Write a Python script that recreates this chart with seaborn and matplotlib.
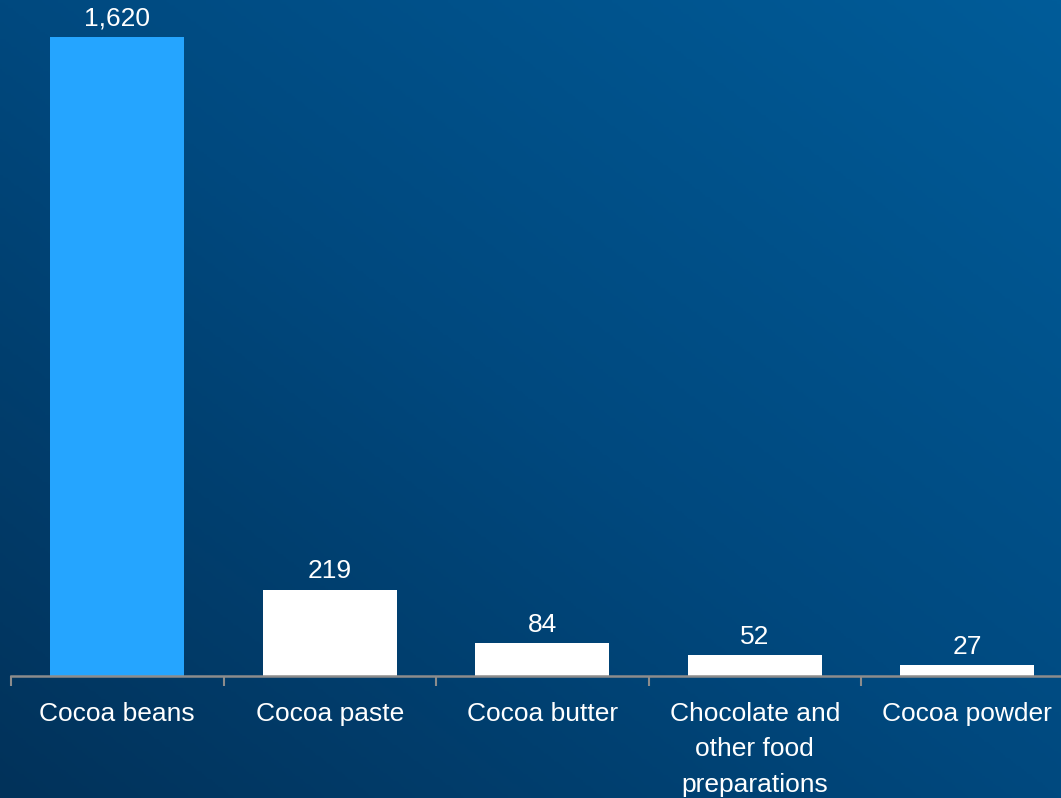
import numpy as np
import pandas as pd
import matplotlib
matplotlib.use("Agg")
import matplotlib.pyplot as plt
import seaborn as sns
from matplotlib.colors import LinearSegmentedColormap

categories = ["Cocoa beans", "Cocoa paste", "Cocoa butter",
              "Chocolate and\nother food\npreparations", "Cocoa powder"]
values = [1620, 219, 84, 52, 27]
value_labels = ["1,620", "219", "84", "52", "27"]
bar_colors = ["#25A5FF", "#FFFFFF", "#FFFFFF", "#FFFFFF", "#FFFFFF"]

sns.set_theme(style="white")
plt.rcParams["font.family"] = ["Liberation Sans", "DejaVu Sans"]

W, H = 1061, 798
fig = plt.figure(figsize=(W / 100, H / 100), dpi=100)

# gradient background
bg = fig.add_axes([0, 0, 1, 1], zorder=-10)
xx, yy = np.meshgrid(np.linspace(0, 1, 400), np.linspace(1, 0, 300))
t = (xx + yy) / 2
cmap = LinearSegmentedColormap.from_list("bg", ["#02325A", "#00497F", "#005C99"])
bg.imshow(t, cmap=cmap, aspect="auto", extent=[0, 1, 0, 1], origin="upper")
bg.set_axis_off()

left = 11 / W
bottom = (H - 676) / H
top_px = 37
height = (676 - top_px) / H * (1800 / 1620)
ax = fig.add_axes([left, bottom, 1 - left, height])
ax.patch.set_alpha(0)

df = pd.DataFrame({"cat": categories, "val": values})
sns.barplot(data=df, x="cat", y="val", hue="cat", palette=bar_colors,
            width=0.63, saturation=1, legend=False, ax=ax, edgecolor="none")

ax.set_ylim(0, 1800)
ax.set_xlim(-0.5, (W - 11) / 212.5 - 0.5)
ax.set_yticks([])
ax.set_xticks([i - 0.5 for i in range(5)])
ax.set_xticklabels([])
for s in ["top", "right", "left"]:
    ax.spines[s].set_visible(False)
ax.spines["bottom"].set_color("#8C8C8C")
ax.spines["bottom"].set_linewidth(1.8)
ax.tick_params(axis="x", bottom=True, length=7, width=1.5, color="#8C8C8C", pad=0)
ax.set_xlabel("")
ax.set_ylabel("")

for i, (v, lab) in enumerate(zip(values, value_labels)):
    ax.annotate(lab, (i, v), xytext=(0, 4.5), textcoords="offset points",
                ha="center", va="bottom", color="white", fontsize=19)

for i, c in enumerate(categories):
    ax.annotate(c, (i, 0), xytext=(0, -18.5), textcoords="offset points",
                ha="center", va="top", color="white", fontsize=19,
                linespacing=1.62, annotation_clip=False)

fig.savefig("out.png", dpi=100)
